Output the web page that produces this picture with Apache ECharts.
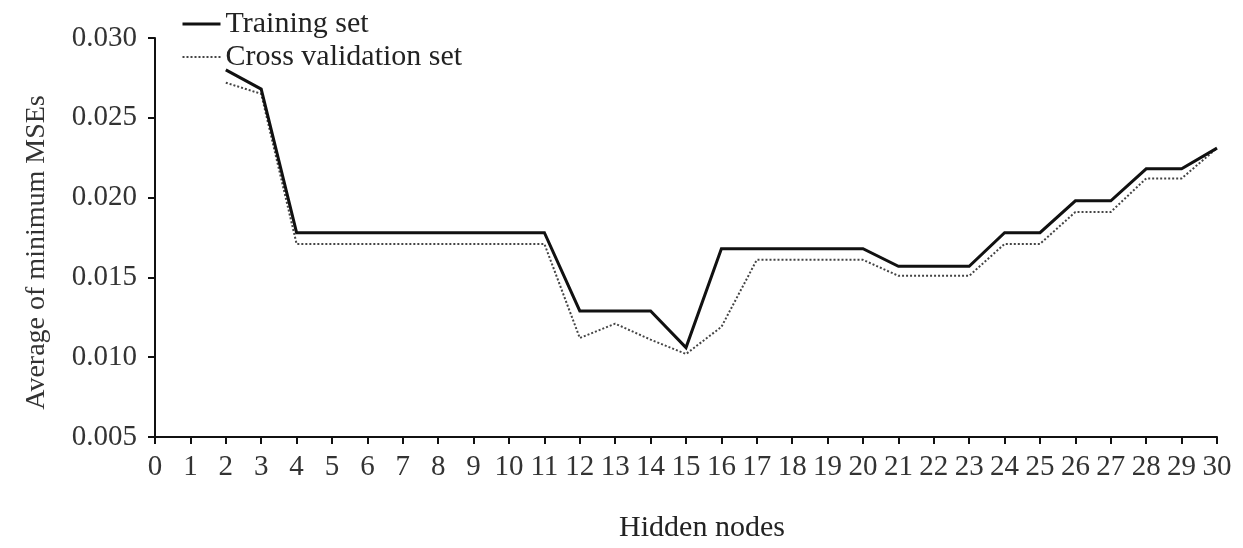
<!DOCTYPE html>
<html>
<head>
<meta charset="utf-8">
<script src="https://cdn.jsdelivr.net/npm/echarts@6/dist/echarts.min.js"></script>
<style>
  html, body { margin: 0; padding: 0; background: #fff; }
  #chart { width: 1243px; height: 548px; }
</style>
</head>
<body>
<div id="chart"></div>
<script>
const hiddenNodes = [2, 3, 4, 5, 6, 7, 8, 9, 10, 11, 12, 13, 14, 15, 16, 17, 18, 19, 20, 21, 22, 23, 24, 25, 26, 27, 28, 29, 30];
const trainingSet = [0.0280, 0.0268, 0.0178, 0.0178, 0.0178, 0.0178, 0.0178, 0.0178, 0.0178, 0.0178,
  0.0129, 0.0129, 0.0129, 0.0106, 0.0168, 0.0168, 0.0168, 0.0168, 0.0168,
  0.0157, 0.0157, 0.0157, 0.0178, 0.0178, 0.0198, 0.0198, 0.0218, 0.0218, 0.0231];
const crossValidationSet = [0.0272, 0.0265, 0.0171, 0.0171, 0.0171, 0.0171, 0.0171, 0.0171, 0.0171, 0.0171,
  0.0112, 0.0121, 0.0111, 0.0102, 0.0119, 0.0161, 0.0161, 0.0161, 0.0161,
  0.0151, 0.0151, 0.0151, 0.0171, 0.0171, 0.0191, 0.0191, 0.0212, 0.0212, 0.0231];
const seriesNames = ['Training set', 'Cross validation set'];
const xTitle = 'Hidden nodes';
const yTitle = 'Average of minimum MSEs';

const font = 'Liberation Serif';
const chart = echarts.init(document.getElementById('chart'));
chart.setOption({
  animation: false,
  backgroundColor: '#fff',
  grid: { left: 155, right: 26, top: 38, bottom: 101 },
  legend: {
    orient: 'vertical',
    left: 176,
    top: 4,
    itemWidth: 38,
    itemHeight: 14,
    itemGap: 3,
    itemStyle: { opacity: 0 },
    textStyle: { fontFamily: font, fontSize: 30, color: '#222', lineHeight: 30 },
    data: [
      { name: seriesNames[0], lineStyle: { width: 3, color: '#111' } },
      { name: seriesNames[1], lineStyle: { width: 2, color: '#444', type: [2, 2] } }
    ]
  },
  xAxis: {
    type: 'value',
    min: 0, max: 30, interval: 1,
    name: xTitle,
    nameLocation: 'middle',
    nameGap: 76,
    nameTextStyle: { fontFamily: font, fontSize: 30, color: '#222', padding: [0, 0, 0, 32] },
    axisLine: { lineStyle: { color: '#111', width: 2 } },
    axisTick: { length: 7, lineStyle: { color: '#111', width: 2 } },
    axisLabel: { fontFamily: font, fontSize: 29, color: '#333', margin: 16 },
    splitLine: { show: false }
  },
  yAxis: {
    type: 'value',
    min: 0.005, max: 0.030, interval: 0.005,
    name: yTitle,
    nameLocation: 'middle',
    nameGap: 104,
    nameRotate: 90,
    nameTextStyle: { fontFamily: font, fontSize: 28, color: '#333', padding: [0, 30, 0, 0] },
    axisLine: { show: true, lineStyle: { color: '#111', width: 2 } },
    axisTick: { show: true, length: 7, lineStyle: { color: '#111', width: 2 } },
    axisLabel: { fontFamily: font, fontSize: 29, color: '#333', margin: 18,
      formatter: v => v.toFixed(3) },
    splitLine: { show: false }
  },
  series: [
    {
      name: seriesNames[0],
      type: 'line',
      symbol: 'none',
      data: hiddenNodes.map((n, i) => [n, trainingSet[i]]),
      lineStyle: { color: '#111', width: 3, join: 'miter' },
      itemStyle: { color: '#111' },
      z: 3
    },
    {
      name: seriesNames[1],
      type: 'line',
      symbol: 'none',
      data: hiddenNodes.map((n, i) => [n, crossValidationSet[i]]),
      lineStyle: { color: '#444', width: 2, type: [2, 2] },
      itemStyle: { color: '#444' },
      z: 2
    }
  ]
});
</script>
</body>
</html>
